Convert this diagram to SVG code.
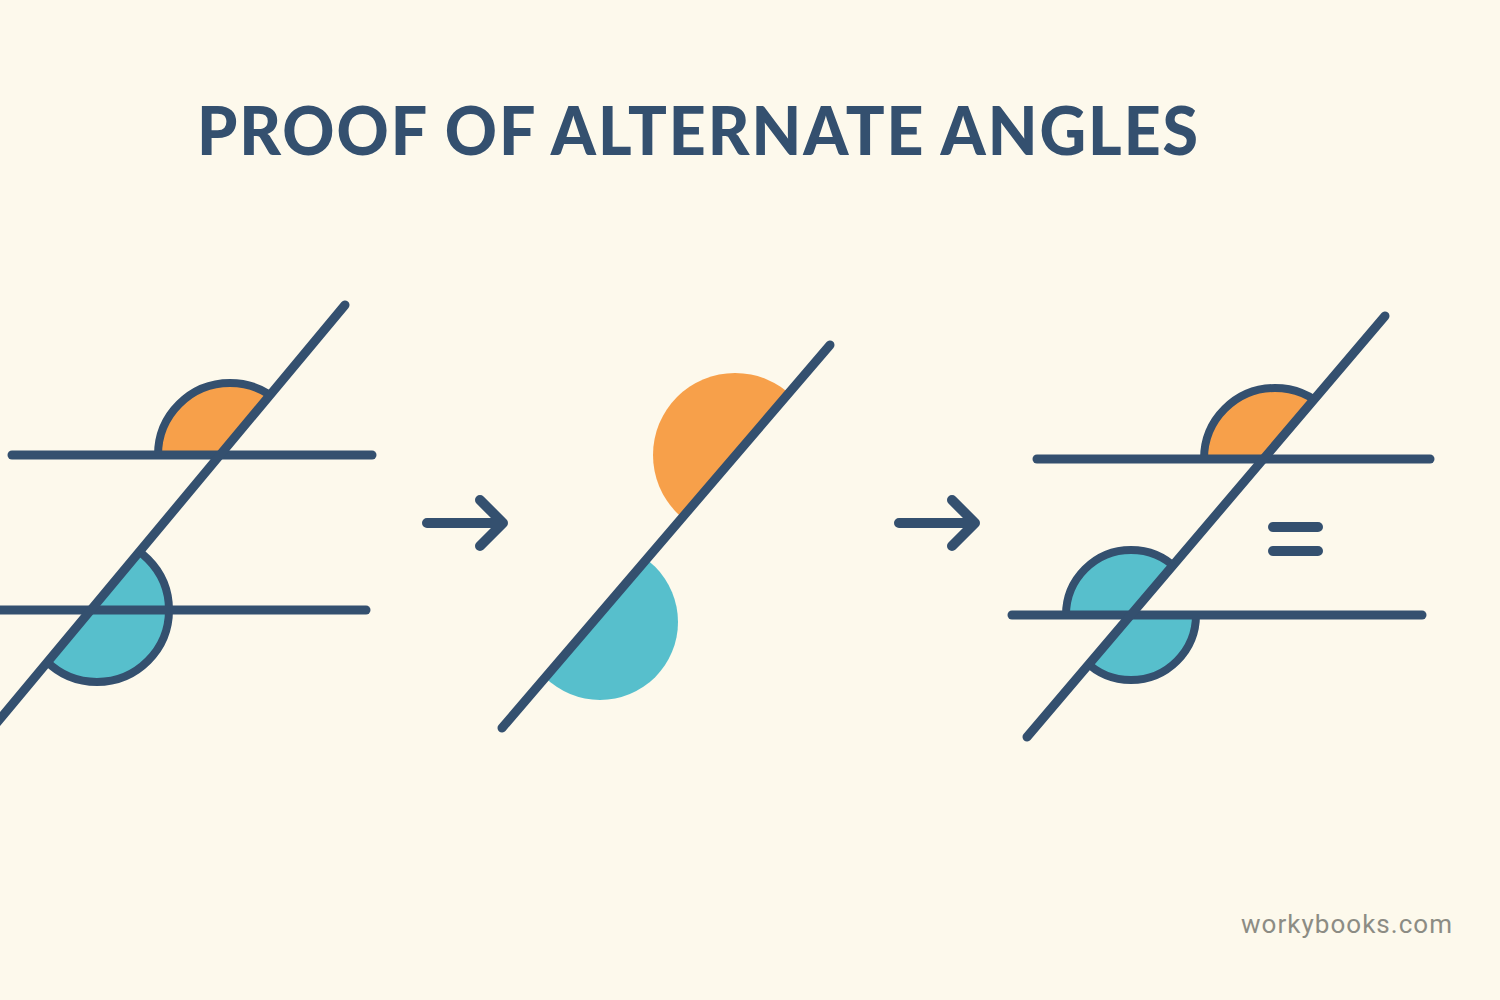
<svg xmlns="http://www.w3.org/2000/svg" width="1500" height="1000" viewBox="0 0 1500 1000">
<style>
.ln{stroke:#34506f;stroke-width:9;stroke-linecap:round;fill:none}
.arc{stroke:#34506f;stroke-width:8}
.or{fill:#f7a04a}
.te{fill:#57bfcc}
.title{font-family:Lato,"Liberation Sans",sans-serif;font-weight:900;font-size:66px;fill:#34506f;letter-spacing:2px}
.wm{font-family:Roboto,"Liberation Sans",sans-serif;font-size:26px;fill:#8c8c84}
</style>
<defs>
<clipPath id="c1o"><polygon points="-100,455 220,455 470,155 -100,155"/></clipPath>
<clipPath id="c1t"><polygon points="470,155 800,155 800,900 -130,875"/></clipPath>
<clipPath id="c2o"><polygon points="1000,146.5 400,847 300,847 300,0 1000,0"/></clipPath>
<clipPath id="c2t"><polygon points="1000,146.5 400,847 1000,847"/></clipPath>
<clipPath id="c3o"><polygon points="1000,459 1263.4,459 1483.6,200 1000,200"/></clipPath>
<clipPath id="c3a"><polygon points="900,615 1130.8,615 1483.6,200 900,200"/></clipPath>
<clipPath id="c3b"><polygon points="1130.8,615 1500,615 1500,900 888.4,900"/></clipPath>
</defs>
<rect width="1500" height="1000" fill="#fdf9ec"/>
<g id="title"><text class="title" x="197" y="155" textLength="1003" lengthAdjust="spacingAndGlyphs">PROOF OF ALTERNATE ANGLES</text></g>
<g id="panel1">
<circle class="or arc" cx="230" cy="455" r="72" clip-path="url(#c1o)"/>
<circle class="te arc" cx="97" cy="610" r="72" clip-path="url(#c1t)"/>
<line class="ln" x1="12" y1="455" x2="372" y2="455"/>
<line class="ln" x1="-5" y1="610" x2="366" y2="610"/>
<line class="ln" x1="345" y1="305" x2="-5" y2="725"/>
</g>
<g id="panel2">
<circle class="or" cx="735" cy="455" r="82" clip-path="url(#c2o)"/>
<circle class="te" cx="600" cy="622" r="78" clip-path="url(#c2t)"/>
<line class="ln" x1="830" y1="345" x2="502" y2="728"/>
</g>
<g id="panel3">
<circle class="or arc" cx="1275" cy="459" r="71" clip-path="url(#c3o)"/>
<circle class="te arc" cx="1131" cy="615" r="65" clip-path="url(#c3a)"/>
<circle class="te arc" cx="1131" cy="615" r="65" clip-path="url(#c3b)"/>
<line class="ln" x1="1037" y1="459" x2="1430" y2="459"/>
<line class="ln" x1="1012" y1="615" x2="1422" y2="615"/>
<line class="ln" x1="1385" y1="316" x2="1027" y2="737"/>
<g id="equals">
<line class="ln" x1="1273" y1="527" x2="1318" y2="527" style="stroke-width:10"/>
<line class="ln" x1="1273" y1="551" x2="1318" y2="551" style="stroke-width:10"/>
</g>
</g>
<g id="connectors">
<path class="ln" d="M427,523 H503 M480,500 L503,523 L480,546" style="stroke-width:10;stroke-linejoin:round"/>
<path class="ln" d="M899,523 H975 M952,500 L975,523 L952,546" style="stroke-width:10;stroke-linejoin:round"/>
</g>
<g id="watermark"><text class="wm" x="1241" y="933" textLength="211" lengthAdjust="spacing">workybooks.com</text></g>
</svg>
